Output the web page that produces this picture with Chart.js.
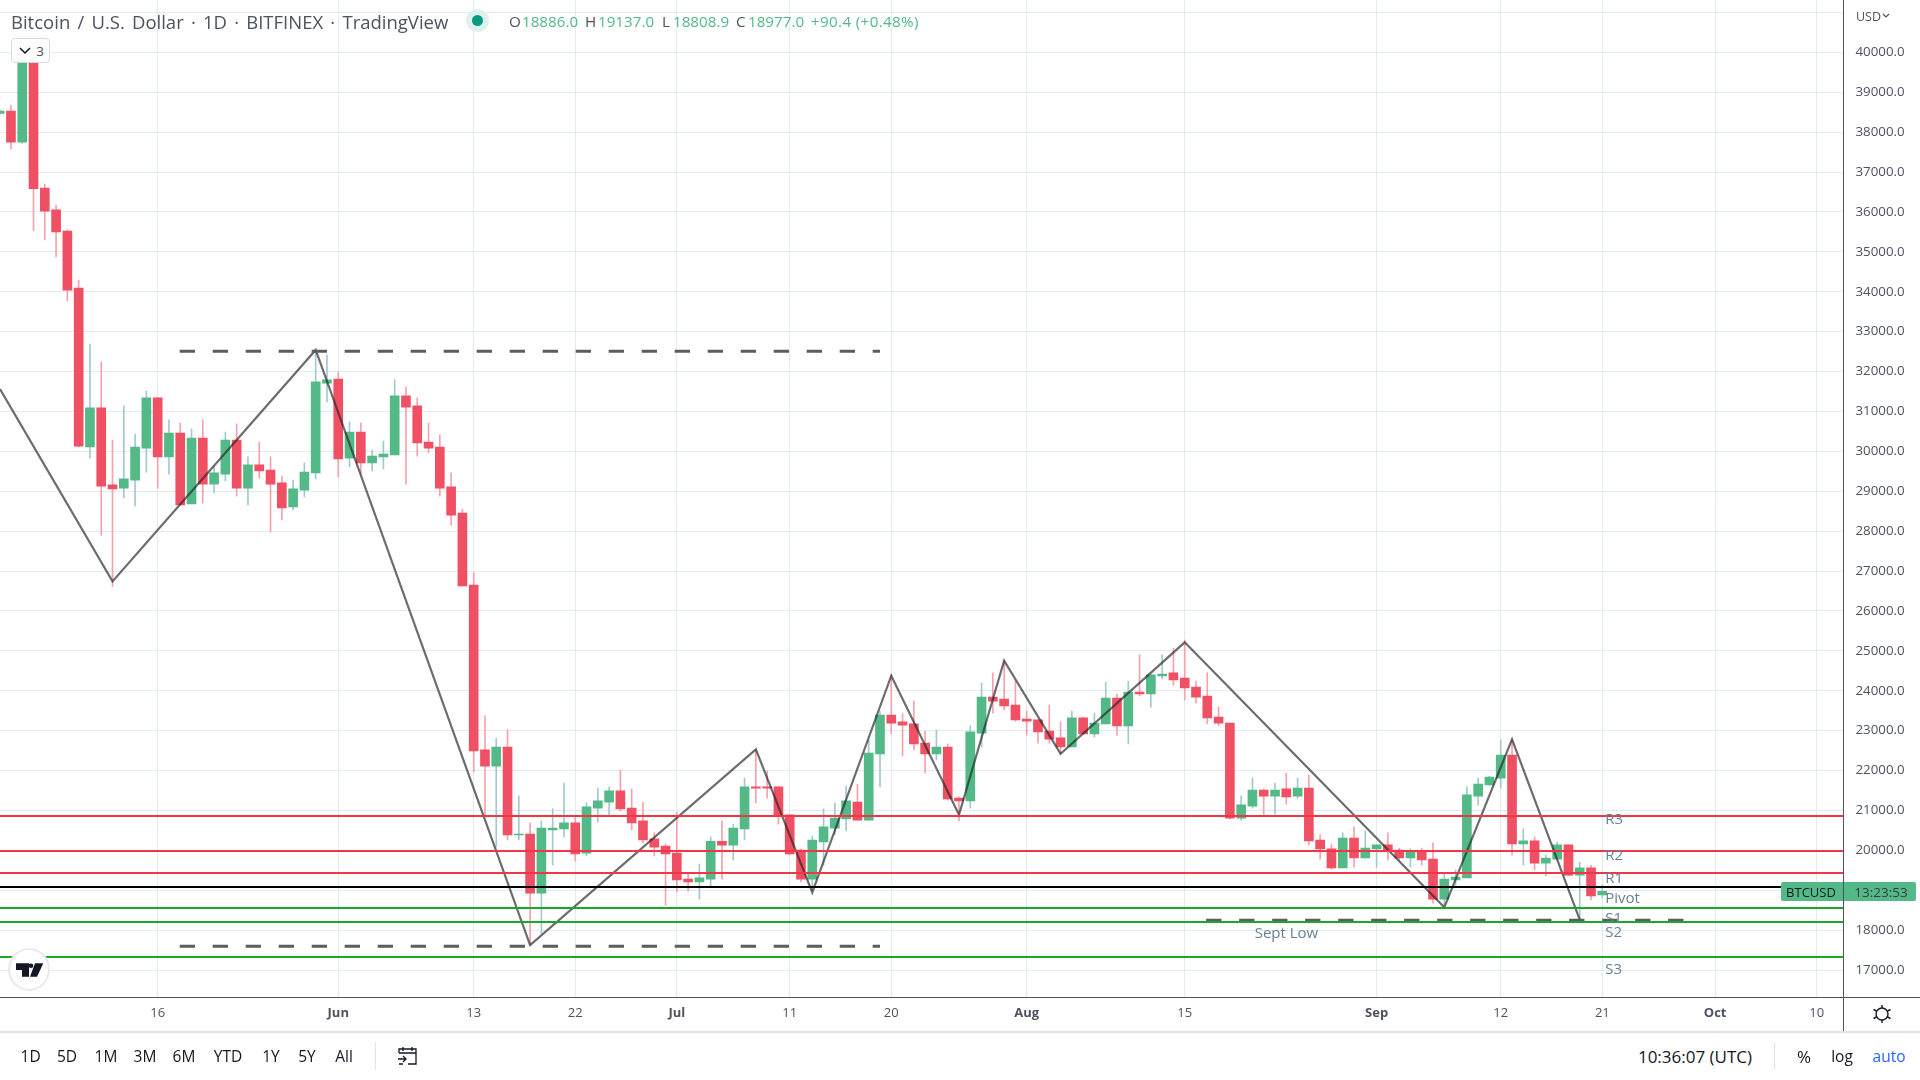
<!DOCTYPE html>
<html>
<head>
<meta charset="utf-8">
<title>Bitcoin / U.S. Dollar</title>
<script src="https://cdn.jsdelivr.net/npm/chart.js@4"></script>
<style>
  html, body { margin: 0; padding: 0; background: #fff; width: 1920px; height: 1080px; overflow: hidden; }
  body { font-family: "Open Sans", sans-serif; color: #131722; position: relative; }
  canvas { position: absolute; left: 0; top: 0; }
  .t { position: absolute; white-space: nowrap; transform: translate(-50%, -50%); }
  .l { position: absolute; white-space: nowrap; transform: translateY(-50%); }
  .rule { position: absolute; }
  .gr { color: #53b987; }
  .gy { color: #4c525e; }
  .h { top: 21px; font-size: 15.2px; }
</style>
</head>
<body>
<canvas id="chart" width="1920" height="1032"></canvas>

<div class="rule" style="left:0;top:997px;width:1920px;height:1px;background:#50535e"></div>
<div class="rule" style="left:1843px;top:0;width:1px;height:1032px;background:#50535e"></div>
<div class="rule" style="left:0;top:1031px;width:1920px;height:2px;background:#e0e3eb"></div>

<!-- header -->
<div class="l gy" style="left:11px;top:21px;font-size:18.5px;word-spacing:2.4px">Bitcoin / U.S. Dollar · 1D · BITFINEX · TradingView</div>
<div class="rule" style="left:466px;top:9px;width:23px;height:23px;border-radius:50%;background:#dff1ee"></div>
<div class="rule" style="left:472px;top:15px;width:11px;height:11px;border-radius:50%;background:#089981"></div>
<div class="l gy h" style="left:509px">O</div><div class="l gr h" style="left:522px">18886.0</div>
<div class="l gy h" style="left:585px">H</div><div class="l gr h" style="left:598px">19137.0</div>
<div class="l gy h" style="left:662px">L</div><div class="l gr h" style="left:673px">18808.9</div>
<div class="l gy h" style="left:736px">C</div><div class="l gr h" style="left:748px">18977.0</div>
<div class="l gr h" style="left:811px;letter-spacing:.35px">+90.4 (+0.48%)</div>

<!-- collapsed indicators button -->
<div class="rule" style="left:11px;top:38px;width:39px;height:25px;box-sizing:border-box;background:#fff;border:1px solid #d6dae3;border-radius:4px"></div>
<svg class="rule" style="left:18px;top:46px" width="14" height="10"><path d="M2 2 L7 7 L12 2" fill="none" stroke="#131722" stroke-width="1.5"/></svg>
<div class="t gy" style="left:40px;top:50.5px;font-size:13.5px">3</div>

<!-- price axis extras -->
<div class="l gy" style="left:1856px;top:16px;font-size:12.5px">USD</div>
<svg class="rule" style="left:1882px;top:13px" width="8" height="6"><path d="M1 1 L4 4 L7 1" fill="none" stroke="#4c525e" stroke-width="1.2"/></svg>
<div class="rule" style="left:1781px;top:882px;width:62px;height:19px;background:#53b987;border-radius:2px 0 0 2px"></div>
<div class="t" style="left:1811px;top:891.5px;font-size:13px">BTCUSD</div>
<div class="rule" style="left:1844px;top:882px;width:72px;height:19px;background:#53b987;border-radius:0 2px 2px 0"></div>
<div class="t" style="left:1881px;top:891.5px;font-size:13.5px;color:#363a45">13:23:53</div>

<!-- logo -->
<div class="rule" style="left:8px;top:948px;width:42px;height:43px;box-sizing:border-box;border-radius:50%;background:#fff;border:2px solid #e8eaee"></div>
<svg class="rule" style="left:15px;top:963px" width="29" height="14"><path d="M1 0.3 H14 V13.7 H7 V7 H1 Z M20 0.3 H28.3 L22 13.7 H15 Z" fill="#131722"/><circle cx="16" cy="2.7" r="2.3" fill="#131722"/></svg>

<!-- gear -->
<svg class="rule" style="left:1871px;top:1003px" width="22" height="22"><circle cx="11" cy="11" r="6" fill="none" stroke="#131722" stroke-width="1.4"/><path d="M11 2 V5 M11 17 V20 M2.5 6.5 L5.5 8 M16.5 14 L19.5 15.5 M2.5 15.5 L5.5 14 M16.5 8 L19.5 6.5" stroke="#131722" stroke-width="1.4"/></svg>

<!-- bottom toolbar -->
<div class="t" style="left:30.6px;top:1056px;font-size:15.5px">1D</div>
<div class="t" style="left:67px;top:1056px;font-size:15.5px">5D</div>
<div class="t" style="left:106px;top:1056px;font-size:15.5px">1M</div>
<div class="t" style="left:145px;top:1056px;font-size:15.5px">3M</div>
<div class="t" style="left:184px;top:1056px;font-size:15.5px">6M</div>
<div class="t" style="left:228px;top:1056px;font-size:15.5px">YTD</div>
<div class="t" style="left:271px;top:1056px;font-size:15.5px">1Y</div>
<div class="t" style="left:307px;top:1056px;font-size:15.5px">5Y</div>
<div class="t" style="left:344px;top:1056px;font-size:15.5px">All</div>
<div class="rule" style="left:375px;top:1042px;width:1px;height:28px;background:#e0e3eb"></div>
<svg class="rule" style="left:397px;top:1046px" width="21" height="20"><path d="M2 7 V3 H19 V18 H11 M2 7 H19 M6 1 V5 M15 1 V5 M1 13 H9 M6 10 L9 13 L6 16 M2 18 H6" fill="none" stroke="#131722" stroke-width="1.3"/></svg>
<div class="t" style="left:1695px;top:1056px;font-size:17px">10:36:07 (UTC)</div>
<div class="rule" style="left:1774px;top:1042px;width:1px;height:28px;background:#e0e3eb"></div>
<div class="t" style="left:1804px;top:1056px;font-size:17px">%</div>
<div class="t" style="left:1842px;top:1056px;font-size:15.5px">log</div>
<div class="t" style="left:1889px;top:1056px;font-size:15.5px;color:#2962ff">auto</div>

<script>
  /* daily candles, first one is May 2, day number counts from Jun 1 */
  const opens = [
    38470,38530,37750,39750,36600,36050,35520,34090,30110,31090,29160,29080,29280,30080,31340,29860,30460,28680,30330,29180,29430,30280,29080,29660,29530,29210,28610,29030,29460,31710,
    31810,29830,30480,29710,29860,29910,31390,31140,30230,30110,29110,28450,26650,22520,22110,22590,20390,20410,18930,20510,20540,20690,19930,21060,21210,21490,21060,20740,20290,20110,
    19930,19280,19210,19280,20230,20130,20540,21590,21590,21590,20890,20010,19280,20210,20560,20790,21210,20760,22420,23390,23220,23170,22690,22420,22590,21310,21240,22940,23840,23790,23640,
    23290,23270,22990,22820,22590,23320,22920,23170,23820,23120,23970,23920,24370,24450,24320,24090,23870,23340,23190,20810,21110,21510,21360,21540,21360,21560,20260,20040,19560,20310,19810,
    20040,20140,20010,19810,19990,19780,18780,19260,19310,21360,21640,21810,22390,20160,20240,19680,19780,20140,19380,19560,18886
  ];
  const highs = [
    38560,38680,40020,40020,36700,36170,35550,34290,32690,32240,30280,31140,30430,31510,31340,30790,30710,30560,30790,29630,30480,30690,29860,30230,29860,29380,29280,29710,32540,32410,
    31990,30740,30710,30030,30260,31790,31610,31340,30710,30410,29460,28550,26960,23370,22810,23020,21360,20690,20740,21040,21690,20840,21190,21560,21590,22010,21540,21210,20440,20160,
    20960,19410,19660,20340,20740,20660,21810,22520,21990,21590,20890,20030,20360,21040,21190,21610,21660,22770,23480,24400,23420,23740,22990,23020,22670,21340,23120,24190,24450,24770,24240,
    23490,23270,23640,23220,23490,23340,23440,24220,23920,24240,24900,24400,24900,25070,25270,24240,24450,23590,23190,21360,21810,21540,21690,21940,21810,21890,20390,20160,20440,20590,20490,
    20140,20440,20060,20040,20060,20190,19410,19510,21590,21810,21860,22770,22770,20540,20340,19880,20210,20140,19710,19630,19137
  ];
  const lows = [
    38440,37580,37720,35530,35300,34870,33770,30110,29830,27900,26610,28830,28630,29480,29080,29430,28660,28680,28710,28960,29260,28880,28660,29330,27980,28280,28530,28860,29310,31240,
    29360,29610,29430,29510,29560,29910,29180,29880,29960,28880,28150,26630,21960,20840,20090,20260,20260,17630,17920,19630,20340,19730,19860,20710,20890,20990,20510,20180,19860,18630,
    18960,18980,18780,19110,19280,19760,20260,21190,21310,20660,19880,19210,18980,19630,20390,20490,20760,20760,21590,22920,22370,22520,21940,22270,21260,20740,21060,22590,23440,23520,23240,
    22890,22690,22690,22420,22590,22920,22840,23170,22890,22670,23870,23590,24300,24140,23770,23690,23170,23120,20790,20760,21060,20910,20910,21160,21310,20140,19780,19530,19560,19580,19810,
    19580,19760,19760,19580,19630,18680,18630,19060,19310,21140,21640,21560,19880,19630,19510,19360,19780,19360,18260,18760,18808.9
  ];
  const closes = [
    38530,37750,39750,36580,36020,35500,34040,30130,31090,29130,29060,29310,30110,31340,29860,30460,28660,30330,29180,29460,30280,29080,29660,29510,29180,28580,29060,29480,31740,31790,
    29810,30480,29710,29880,29930,31390,31110,30210,30080,29080,28400,26630,22490,22110,22590,20390,20410,18930,20560,20560,20690,19910,21090,21240,21490,21040,20690,20260,20080,19910,
    19260,19210,19310,20230,20130,20560,21590,21560,21560,20860,19910,19280,20260,20590,20810,21240,20760,22440,23390,23190,23140,22670,22420,22590,21290,21240,22970,23840,23740,23620,23270,
    23240,22970,22790,22590,23320,22920,23190,23820,23120,23970,23920,24400,24420,24270,24070,23840,23320,23190,20810,21140,21510,21360,21510,21340,21560,20240,20040,19560,20310,19810,20060,
    20140,19990,19810,19990,19760,18780,19280,19330,21390,21660,21840,22390,20160,20240,19680,19810,20140,19380,19560,18860,18977
  ];
  const dayNumbers = opens.map((_, i) => i - 30);

  // time axis
  const xTickDays = [-16, 0, 12, 21, 30, 40, 49, 61, 75, 92, 103, 112, 122, 131];
  const xTickLabels = ["16", "Jun", "13", "22", "Jul", "11", "20", "Aug", "15", "Sep", "12", "21", "Oct", "10"];
  const xMonthLabels = ["Jun", "Jul", "Aug", "Sep", "Oct"];

  // price axis, 41000 has a grid line but sits under the currency label
  const yTickValues = [17000,18000,19000,20000,21000,22000,23000,24000,25000,26000,27000,28000,29000,30000,31000,32000,33000,34000,35000,36000,37000,38000,39000,40000,41000];

  // pivot levels
  const levelNames = ["R3", "R2", "R1", "Pivot", "S1", "S2", "S3"];
  const levelValues = [20862, 19984, 19433, 19082, 18556, 18205, 17328];
  const levelLabelValues = [20770, 19870, 19300, 18790, 18280, 17930, 17020];
  const levelColors = ["#f23645", "#f23645", "#f23645", "#000000", "#19a827", "#19a827", "#19a827"];

  // zigzag swing points
  const swingDays = [-29.97, -20, -2, 17, 37, 42, 49, 55, 59, 64, 75, 98, 104, 110];
  const swingPrices = [31562, 26742, 32540, 17628, 22532, 18948, 24378, 20894, 24754, 22423, 25214, 18573, 22783, 18264];

  // dashed support and resistance
  const dashStartDays = [-14.05, -14.05, 76.9];
  const dashEndDays = [48, 48, 119.25];
  const dashPrices = [32507, 17596, 18247];

  const xMin = -29.97, xMax = 133.37;
  const yMin = 16326, yMax = 41311;

  const upColor = "#53b987", downColor = "#ef5064";
  const upWick = "#a3c9cd", downWick = "#f6a2ac";
  const fontName = '"Open Sans", sans-serif';

  function isUp(i) { return closes[i] >= opens[i]; }

  let datasets = [];

  // lines on top of the candles
  levelValues.forEach((value, i) => {
    datasets.push({
      type: "line", order: 0, borderColor: levelColors[i], borderWidth: 2, pointRadius: 0,
      data: [{ x: xMin, y: value }, { x: xMax, y: value }]
    });
  });

  dashPrices.forEach((price, i) => {
    datasets.push({
      type: "line", order: 0, borderColor: "#5d5d5d", borderWidth: 3, pointRadius: 0,
      borderDash: [15.3, 17.7],
      data: [{ x: dashStartDays[i], y: price }, { x: dashEndDays[i], y: price }]
    });
  });

  datasets.push({
    type: "line", order: 0, borderColor: "rgba(40,40,40,0.68)", borderWidth: 2.2, pointRadius: 0, tension: 0,
    data: swingDays.map((day, i) => ({ x: day, y: swingPrices[i] }))
  });

  // candle bodies
  datasets.push({
    type: "bar", order: 1, grouped: false, barThickness: 9,
    backgroundColor: opens.map((_, i) => isUp(i) ? upColor : downColor),
    data: dayNumbers.map((day, i) => ({ x: day, y: [opens[i], closes[i]] }))
  });

  // candle wicks
  datasets.push({
    type: "bar", order: 2, grouped: false, barThickness: 1,
    backgroundColor: opens.map((_, i) => isUp(i) ? upWick : downWick),
    data: dayNumbers.map((day, i) => ({ x: day, y: [lows[i], highs[i]] }))
  });

  // level names and the Sept Low note
  const labelPlugin = {
    id: "labels",
    afterDatasetsDraw(chart) {
      const { ctx, scales } = chart;
      ctx.save();
      ctx.fillStyle = "#6a7f93";
      ctx.font = "15px " + fontName;
      ctx.textBaseline = "middle";
      levelNames.forEach((name, i) => {
        ctx.fillText(name, scales.x.getPixelForValue(112.26), scales.y.getPixelForValue(levelLabelValues[i]));
      });
      ctx.fillText("Sept Low", scales.x.getPixelForValue(81.2), scales.y.getPixelForValue(17910));
      ctx.restore();
    }
  };

  new Chart(document.getElementById("chart"), {
    data: { datasets: datasets },
    plugins: [labelPlugin],
    options: {
      responsive: false,
      animation: false,
      devicePixelRatio: 1,
      layout: { padding: 0 },
      plugins: { legend: { display: false }, tooltip: { enabled: false } },
      scales: {
        x: {
          type: "linear",
          min: xMin,
          max: xMax,
          offset: false,
          afterBuildTicks: scale => { scale.ticks = xTickDays.map(v => ({ value: v })); },
          afterFit: scale => { scale.height = 35; scale.paddingLeft = 0; scale.paddingRight = 0; },
          border: { display: false },
          grid: { offset: false, color: "#e1ecf2", lineWidth: 1, drawTicks: false },
          ticks: {
            autoSkip: false,
            maxRotation: 0,
            padding: 8,
            color: "#4c525e",
            font: ctx => ({
              family: fontName,
              size: 13,
              weight: xMonthLabels.includes(xTickLabels[ctx.index]) ? "bold" : "normal"
            }),
            callback: (value, index) => xTickLabels[index]
          }
        },
        y: {
          type: "linear",
          position: "right",
          min: yMin,
          max: yMax,
          afterBuildTicks: scale => { scale.ticks = yTickValues.map(v => ({ value: v })); },
          afterFit: scale => { scale.width = 76.5; scale.paddingTop = 0; scale.paddingBottom = 0; },
          border: { display: false },
          grid: { color: "#e1ecf2", lineWidth: 1, drawTicks: false },
          ticks: {
            autoSkip: false,
            padding: 12,
            color: "#4c525e",
            font: { family: fontName, size: 13.3 },
            callback: value => value === 41000 ? "" : value.toFixed(1)
          }
        }
      }
    }
  });
</script>
</body>
</html>
